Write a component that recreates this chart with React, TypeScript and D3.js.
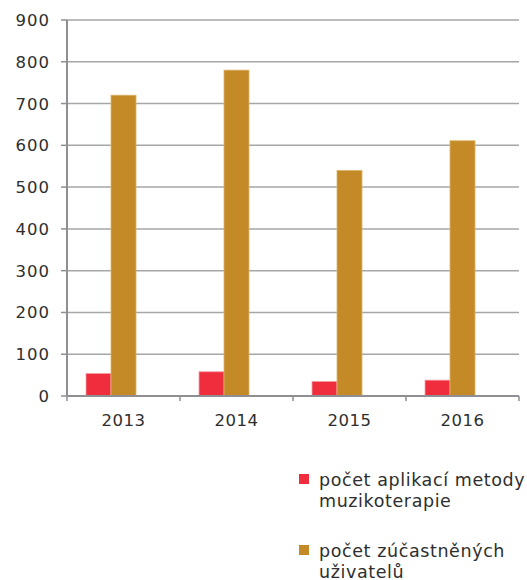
import React from 'react';
import * as d3 from 'd3';

const years = ['2013', '2014', '2015', '2016'];
const applications = [54, 58, 35, 38];
const participants = [720, 780, 540, 611];
const seriesNames = ['počet aplikací metody muzikoterapie', 'počet zúčastněných uživatelů'];
const seriesColors = ['#ef2d3d', '#c58a28'];
const yTicks = [0, 100, 200, 300, 400, 500, 600, 700, 800, 900];

const legendLines = [
  ['počet aplikací metody', 'muzikoterapie'],
  ['počet zúčastněných', 'uživatelů'],
];

const font = '"DejaVu Sans", sans-serif';

export default function App() {
  const width = 527;
  const height = 580;
  const margin = { top: 20, right: 8, bottom: 184, left: 67 };
  const innerW = 519 - margin.left;
  const innerH = 396 - margin.top;

  const x0 = d3.scaleBand().domain(years).range([0, innerW]).padding(0);
  // three slots per year, the last one stays empty like in the original
  const x1 = d3
    .scaleBand()
    .domain(['a', 'b', '_'])
    .range([0, x0.bandwidth()])
    .paddingInner(0)
    .paddingOuter(0.76);
  const y = d3.scaleLinear().domain([0, 900]).range([innerH, 0]);

  const series = [applications, participants];

  return (
    <svg
      width={width}
      height={height}
      style={{ position: 'absolute', left: 0, top: 0, display: 'block' }}
    >
      <g transform={`translate(${margin.left},${margin.top})`}>
        {yTicks.map((t) => (
          <g key={t} transform={`translate(0,${y(t)})`}>
            {t > 0 && <line x1={0} x2={innerW} stroke="#a6a6a6" strokeWidth={1.5} />}
            <line x1={-6} x2={0} stroke="#8e8e93" strokeWidth={1.5} />
            <text
              x={-17}
              dy="0.36em"
              textAnchor="end"
              fontFamily={font}
              fontSize={16.5}
              letterSpacing={1}
              fill="#2e2e2e"
            >
              {t}
            </text>
          </g>
        ))}

        {years.map((yr, i) => (
          <g key={yr} transform={`translate(${x0(yr)},0)`}>
            {series.map((vals, s) => (
              <rect
                key={s}
                x={x1(s === 0 ? 'a' : 'b')}
                y={y(vals[i])}
                width={x1.bandwidth()}
                height={innerH - y(vals[i])}
                fill={seriesColors[s]}
                stroke={s === 0 ? '#f4a0a8' : '#dcb56a'}
                strokeWidth={0.8}
              />
            ))}
            <text
              x={x0.bandwidth() / 2}
              y={innerH + 30}
              textAnchor="middle"
              fontFamily={font}
              fontSize={16.5}
              letterSpacing={0.5}
              fill="#2e2e2e"
            >
              {yr}
            </text>
          </g>
        ))}

        {/* axes */}
        <line x1={0} x2={0} y1={0} y2={innerH} stroke="#8e8e93" strokeWidth={2} />
        <line x1={0} x2={innerW} y1={innerH} y2={innerH} stroke="#8e8e93" strokeWidth={2} />
        {[...years.map((yr) => x0(yr) as number), innerW].map((xv, i) => (
          <line key={i} x1={xv} x2={xv} y1={innerH} y2={innerH + 5} stroke="#8e8e93" strokeWidth={1.5} />
        ))}
      </g>

      {/* legend */}
      {seriesNames.map((name, s) => (
        <g key={name} transform={`translate(299,${474 + s * 71})`}>
          <rect width={10} height={10} fill={seriesColors[s]} />
          {legendLines[s].map((ln, j) => (
            <text
              key={j}
              x={20}
              y={12 + j * 21}
              fontFamily={font}
              fontSize={17.5}
              letterSpacing={0.6}
              fill="#2e2e2e"
            >
              {ln}
            </text>
          ))}
        </g>
      ))}
    </svg>
  );
}
